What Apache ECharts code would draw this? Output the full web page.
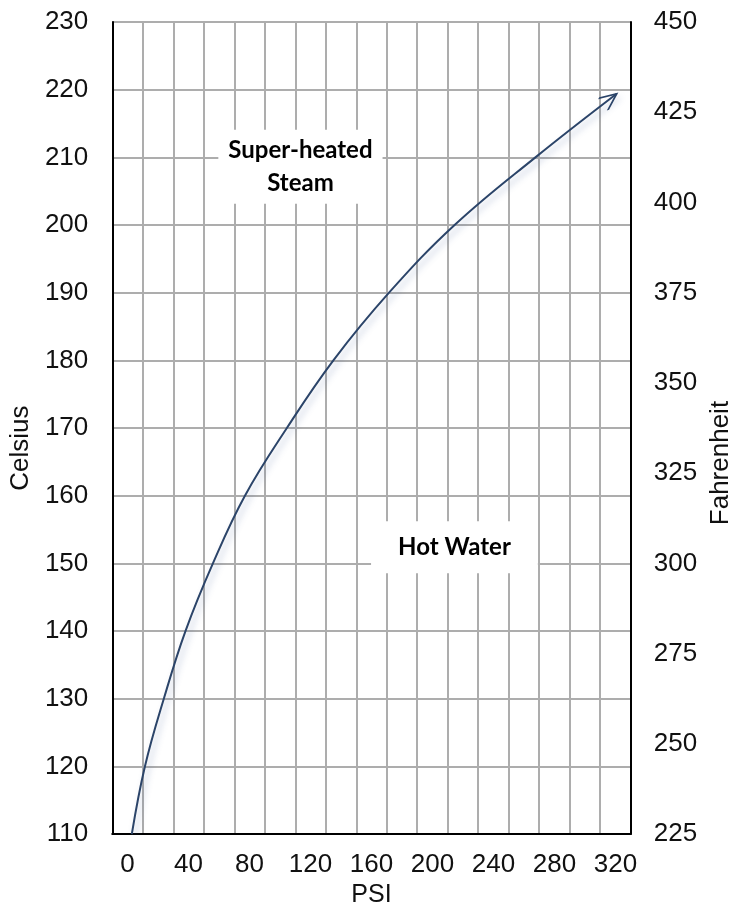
<!DOCTYPE html>
<html>
<head>
<meta charset="utf-8">
<script src="https://cdn.jsdelivr.net/npm/echarts@6/dist/echarts.min.js"></script>
<style>
html,body{margin:0;padding:0;background:#fff}
#echarts{width:742px;height:913px}
</style>
</head>
<body>
<div id="echarts"></div>
<script>
// saturation curve (PSI, Celsius)
var psi = [2.8, 11.4, 23.8, 38, 56, 77, 104.5, 135, 171.5, 214.5, 267.5, 320.8]
var celsius = [110, 120, 130, 140, 150, 160, 170, 180, 190, 200, 210, 219.4]

// x gridlines sit on odd tens, labels every 40
var psiGrid = [-10, 10, 30, 50, 70, 90, 110, 130, 150, 170, 190, 210, 230, 250, 270, 290, 310, 330]
var psiLabels = [0, 40, 80, 120, 160, 200, 240, 280, 320]

// region notes: [psi, celsius, text]
var notes = [
	[113.4, 208.6, 'Super-heated\nSteam'],
	[214.4, 152.4, 'Hot Water']
]

var axisFont = 'Liberation Sans, Arial, sans-serif'
var noteFont = 'Lato, Calibri, sans-serif'

var chart = echarts.init(document.getElementById('echarts'))

var lineData = []
psi.forEach(function (p, i) {
	var item = { value: [p, celsius[i]] }
	if (i == psi.length - 1) {
		// open chevron, tip at the symbol centre
		item.symbol = 'path://M5,0 M0,20 L5,10 L10,20'
		item.symbolSize = [15, 34]
		item.symbolRotate = -52
		item.itemStyle = { color: 'none', borderColor: '#2b4469', borderWidth: 2 }
	}
	lineData.push(item)
})

var option = {
	animation: false,
	grid: { left: 107, right: 105, top: 22, bottom: 68, containLabel: false },
	xAxis: {
		type: 'value',
		min: -10,
		max: 330,
		interval: 20,
		name: 'PSI',
		nameLocation: 'middle',
		nameGap: 45,
		nameTextStyle: { fontFamily: axisFont, fontSize: 25, color: '#111' },
		axisLine: { show: true, onZero: false, lineStyle: { color: '#000', width: 2 } },
		axisTick: { show: false, customValues: psiGrid },
		axisLabel: { customValues: psiLabels, margin: 18, fontFamily: axisFont, fontSize: 26, color: '#111' },
		splitLine: { show: true, lineStyle: { color: '#adadad', width: 2 } }
	},
	yAxis: [{
		type: 'value',
		min: 110,
		max: 230,
		interval: 10,
		name: 'Celsius',
		nameLocation: 'middle',
		nameRotate: 90,
		nameGap: 72,
		nameTextStyle: { fontFamily: axisFont, fontSize: 26, color: '#111', padding: [0, 40, 0, 0] },
		axisLine: { show: true, onZero: false, lineStyle: { color: '#000', width: 2 } },
		axisTick: { show: false },
		axisLabel: { margin: 24, fontFamily: axisFont, fontSize: 26, color: '#111' },
		splitLine: { show: true, lineStyle: { color: '#adadad', width: 2 } }
	}, {
		type: 'value',
		position: 'right',
		min: 225,
		max: 450,
		interval: 25,
		name: 'Fahrenheit',
		nameLocation: 'middle',
		nameRotate: 90,
		nameGap: 68,
		nameTextStyle: { fontFamily: axisFont, fontSize: 26, color: '#111', padding: [0, 70, 0, 0] },
		axisLine: { show: true, onZero: false, lineStyle: { color: '#000', width: 2 } },
		axisTick: { show: false },
		axisLabel: { margin: 23, fontFamily: axisFont, fontSize: 26, color: '#111' },
		splitLine: { show: false }
	}],
	series: [{
		type: 'line',
		smooth: 0.4,
		symbol: 'none',
		showSymbol: true,
		lineStyle: {
			color: '#2b4469',
			width: 2,
			shadowColor: 'rgba(60,90,150,0.35)',
			shadowBlur: 6,
			shadowOffsetX: 3,
			shadowOffsetY: 4
		},
		data: lineData,
		z: 5
	}, {
		// text boxes that blank the grid behind them
		type: 'scatter',
		symbolSize: 0,
		silent: true,
		z: 4,
		itemStyle: { opacity: 1 },
		data: notes.map(function (n) { return [n[0], n[1], n[2]] }),
		label: {
			show: true,
			position: 'inside',
			formatter: function (p) { return p.value[2] },
			fontFamily: noteFont,
			fontWeight: 'bold',
			fontSize: 24,
			lineHeight: 33,
			color: '#000',
			backgroundColor: '#fff',
			padding: [4, 10, 4, 10]
		}
	}]
}

// second box is wider than its text
option.series[1].data[1] = {
	value: option.series[1].data[1],
	label: { padding: [11, 27, 11, 27], lineHeight: 30 }
}

chart.setOption(option)
</script>
</body>
</html>
